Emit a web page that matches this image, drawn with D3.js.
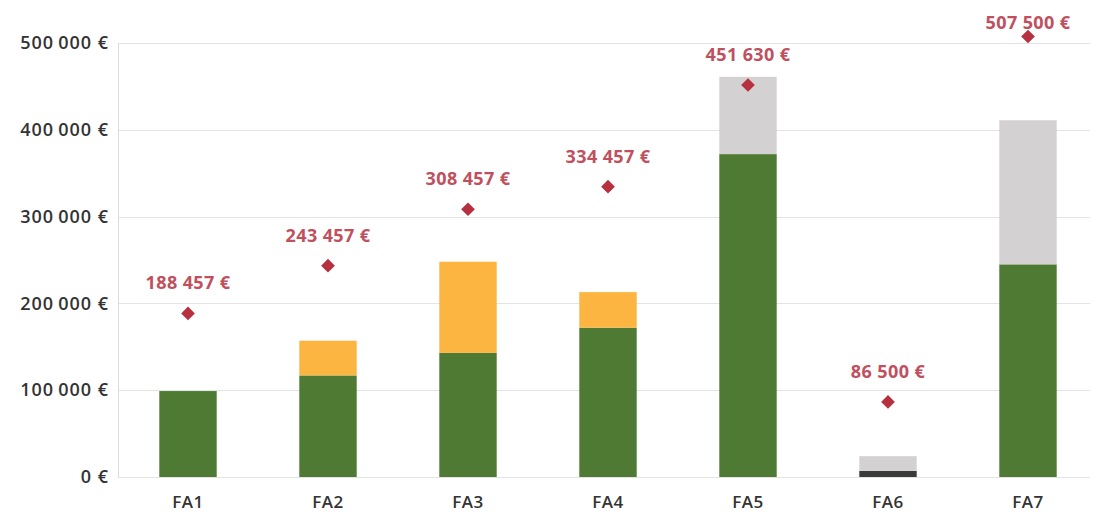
<!DOCTYPE html>
<html>
<head>
<meta charset="utf-8">
<script src="https://cdn.jsdelivr.net/npm/d3@7"></script>
<style>
  body { margin: 0; background: #fff; }
  svg { display: block; font-family: "Open Sans", "Liberation Sans", sans-serif; }
</style>
</head>
<body>
<svg id="chart" width="1098" height="515"></svg>
<script>
const categories = ["FA1", "FA2", "FA3", "FA4", "FA5", "FA6", "FA7"];
const darkValues = [0, 0, 0, 0, 0, 7000, 0];
const greenValues = [99000, 117000, 143000, 172000, 372000, 0, 245000];
const yellowValues = [0, 40000, 105000, 41000, 0, 0, 0];
const greyValues = [0, 0, 0, 0, 89000, 17000, 166000];
const targetValues = [188457, 243457, 308457, 334457, 451630, 86500, 507500];
const yTicks = [0, 100000, 200000, 300000, 400000, 500000];

const seriesKeys = ["dark", "green", "yellow", "grey"];
const colors = { dark: "#3a3a3a", green: "#4e7a33", yellow: "#fbb540", grey: "#d3d1d1" };

const width = 1098, height = 515;
const margin = { top: 43, right: 0, bottom: 38, left: 118 };
const font = "'Open Sans', 'Liberation Sans', sans-serif";

const svg = d3.select("#chart");

const rows = categories.map((c, i) => ({
  cat: c,
  dark: darkValues[i],
  green: greenValues[i],
  yellow: yellowValues[i],
  grey: greyValues[i],
  target: targetValues[i]
}));

const x = d3.scaleBand()
  .domain(categories)
  .range([margin.left, width - margin.right])
  .paddingInner(0.59)
  .paddingOuter(0.295);

const y = d3.scaleLinear()
  .domain([0, 500000])
  .range([height - margin.bottom, margin.top]);

const fmt = (v) => d3.format(",")(v).replace(/,/g, " ");

// gridlines
svg.append("g")
  .selectAll("line")
  .data(yTicks)
  .join("line")
  .attr("x1", margin.left)
  .attr("x2", width - 8)
  .attr("y1", (d) => Math.round(y(d)) + 0.5)
  .attr("y2", (d) => Math.round(y(d)) + 0.5)
  .attr("stroke", "#e4e4e4")
  .attr("stroke-width", 1);

// y axis
const yAxis = svg.append("g")
  .attr("transform", `translate(${margin.left},0)`)
  .call(d3.axisLeft(y).tickValues(yTicks).tickSize(0).tickPadding(9)
    .tickFormat((d) => d3.format(",")(d).replace(/,/g, "\u2009") + " €"));
yAxis.attr("font-family", font);
yAxis.select(".domain").attr("stroke", "#dcdcdc");
yAxis.selectAll("text")
  .attr("fill", "#333")
  .attr("font-size", "18px")
  .attr("font-weight", 600)
  .attr("letter-spacing", "1px");

// x axis labels
const xAxis = svg.append("g")
  .attr("transform", `translate(0,${height - margin.bottom})`)
  .call(d3.axisBottom(x).tickSize(0).tickPadding(19));
xAxis.attr("font-family", font);
xAxis.select(".domain").remove();
xAxis.selectAll("text")
  .attr("fill", "#333")
  .attr("font-size", "17px")
  .attr("font-weight", 600)
  .attr("letter-spacing", "0.5px");

// stacked bars
const stack = d3.stack().keys(seriesKeys);
const layers = stack(rows);

svg.append("g")
  .selectAll("g")
  .data(layers)
  .join("g")
  .attr("fill", (d) => colors[d.key])
  .selectAll("rect")
  .data((d) => d)
  .join("rect")
  .attr("x", (d) => x(d.data.cat))
  .attr("width", x.bandwidth())
  .attr("y", (d) => y(d[1]))
  .attr("height", (d) => y(d[0]) - y(d[1]));

// target diamonds
const diamond = d3.symbol().type(d3.symbolDiamond2).size(120);
svg.append("g")
  .selectAll("path")
  .data(rows)
  .join("path")
  .attr("d", diamond)
  .attr("transform", (d) => `translate(${x(d.cat) + x.bandwidth() / 2},${y(d.target)})`)
  .attr("fill", "#b7303f");

// target labels
svg.append("g")
  .selectAll("text")
  .data(rows)
  .join("text")
  .attr("x", (d) => x(d.cat) + x.bandwidth() / 2)
  .attr("y", (d) => Math.max(y(d.target) - 24, 29))
  .attr("text-anchor", "middle")
  .attr("fill", "#c0505e")
  .attr("font-size", "18px")
  .attr("font-weight", 700)
  .attr("letter-spacing", "0.4px")
  .text((d) => fmt(d.target) + " €");
</script>
</body>
</html>
